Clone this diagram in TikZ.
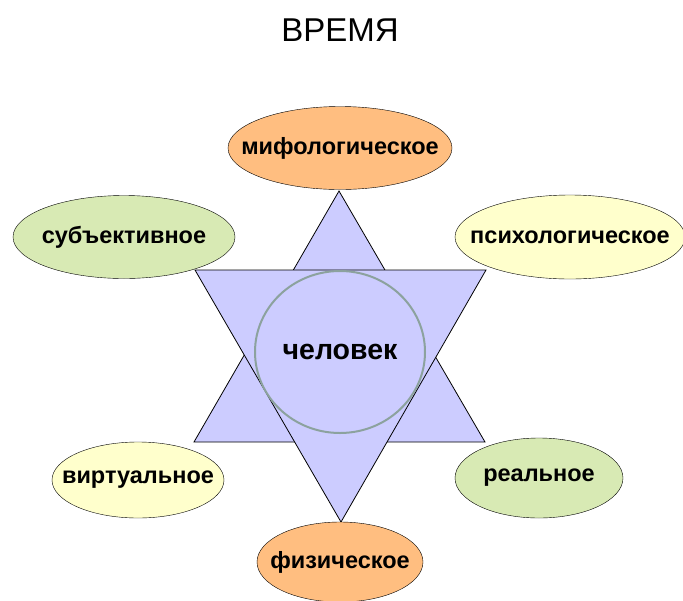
\documentclass[tikz,border=0pt]{standalone}
\usepackage{fontspec}
\setmainfont{Liberation Sans}
\usepackage{tikz}
\usetikzlibrary{shapes,backgrounds,calc}
\usetikzlibrary{positioning, shapes.geometric}
\definecolor{orangeF}{RGB}{255,190,128}
\definecolor{greenF}{RGB}{216,234,180}
\definecolor{yellowF}{RGB}{255,255,204}
\definecolor{starF}{RGB}{204,204,255}
\definecolor{ringC}{RGB}{140,162,158}
\tikzset{
  ellOr/.style={ draw, ellipse, fill=orangeF, inner xsep=-40pt, inner ysep=0pt, font=\fontsize{23.5}{26}\selectfont\bfseries }
}
\tikzset{
  ellGr/.style={ draw, ellipse, fill=greenF, inner xsep=-40pt, inner ysep=0pt, font=\fontsize{23.5}{26}\selectfont\bfseries }
}
\tikzset{
  ellYe/.style={ draw, ellipse, fill=yellowF, inner xsep=-40pt, inner ysep=0pt, font=\fontsize{23.5}{26}\selectfont\bfseries }
}
\tikzset{
  tri/.style={ draw, fill=starF, line width=0.8pt, line join=miter }
}
\begin{document}
\begin{tikzpicture}[x=1pt, y=-1pt]
        \useasboundingbox (0,0) rectangle (683,600);
        \node[font=\fontsize{33}{36}\selectfont] (title) at (340,30) {ВРЕМЯ};
        % star
        \coordinate (u1) at (339,191);
        \coordinate (u2) at (194,442);
        \coordinate (u3) at (485,442);
        \coordinate (d1) at (195,270);
        \coordinate (d2) at (486,270);
        \coordinate (d3) at (341,522);
        \draw[tri] (u1) -- (u2) -- (u3) -- cycle;
        \draw[tri] (d1) -- (d2) -- (d3) -- cycle;
        \node[draw=ringC, line width=2pt, ellipse, inner sep=0pt, minimum width=170, minimum height=162,
              font=\fontsize{28.5}{32}\selectfont\bfseries] (man) at (340,352) {человек};
        % ellipses
        \node[ellOr, minimum width=224, minimum height=83] (myth) at (340,148) {мифологическое};
        \node[ellGr, minimum width=222, minimum height=83] (subj) at (124,237) {субъективное};
        \node[ellYe, minimum width=230, minimum height=84] (psych) at (570,237) {психологическое};
        \node[ellYe, minimum width=172, minimum height=76] (virt) at (138,480) {виртуальное};
        \node[ellGr, minimum width=168, minimum height=80] (real) at (539,478) {реальное};
        \node[ellOr, minimum width=166, minimum height=80] (phys) at (340,562) {физическое};
      \end{tikzpicture}
\end{document}
